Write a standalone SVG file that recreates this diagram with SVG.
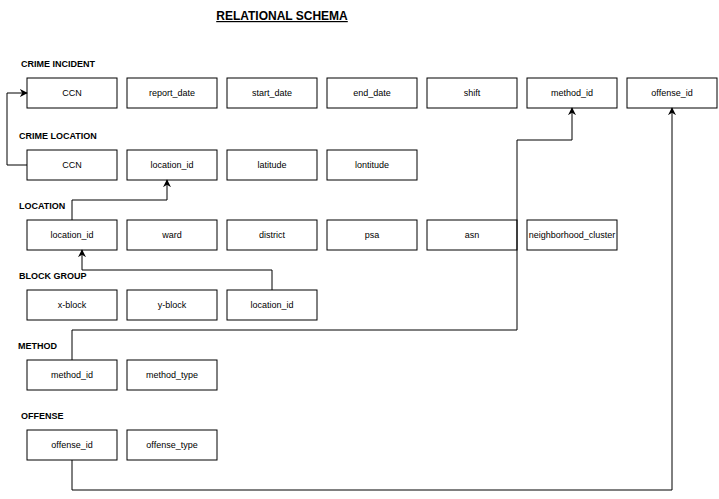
<svg xmlns="http://www.w3.org/2000/svg" width="719" height="499" viewBox="0 0 719 499">
<style>
.box rect{fill:#fff;stroke:#000;stroke-width:1}
.box text{font-family:"Liberation Sans",Arial,sans-serif;font-size:9px;fill:#000;text-anchor:middle;dominant-baseline:central}
.lbl{font-family:"Liberation Sans",Arial,sans-serif;font-size:9px;font-weight:bold;fill:#000}
.title{font-family:"Liberation Sans",Arial,sans-serif;font-size:12px;font-weight:bold;fill:#000;text-decoration:underline;text-anchor:middle}
.conn path{fill:none;stroke:#000;stroke-width:1}
</style>
<defs>
<marker id="arr" viewBox="0 0 10 10" refX="9" refY="5" markerWidth="8" markerHeight="8" markerUnits="userSpaceOnUse" orient="auto">
<path d="M0,0 L10,5 L0,10 L3,5 Z" fill="#000"/>
</marker>
</defs>
<rect width="719" height="499" fill="#fff"/>
<text class="title" x="282" y="20">RELATIONAL SCHEMA</text>
<text class="lbl" x="21" y="67">CRIME INCIDENT</text>
<text class="lbl" x="19" y="139">CRIME LOCATION</text>
<text class="lbl" x="19" y="209">LOCATION</text>
<text class="lbl" x="19" y="279">BLOCK GROUP</text>
<text class="lbl" x="18" y="349">METHOD</text>
<text class="lbl" x="21" y="419">OFFENSE</text>

<g id="ci-ccn" class="box"><rect x="27" y="78" width="90" height="30"/><text x="72" y="93">CCN</text></g>
<g id="ci-report_date" class="box"><rect x="127" y="78" width="90" height="30"/><text x="172" y="93">report_date</text></g>
<g id="ci-start_date" class="box"><rect x="227" y="78" width="90" height="30"/><text x="272" y="93">start_date</text></g>
<g id="ci-end_date" class="box"><rect x="327" y="78" width="90" height="30"/><text x="372" y="93">end_date</text></g>
<g id="ci-shift" class="box"><rect x="427" y="78" width="90" height="30"/><text x="472" y="93">shift</text></g>
<g id="ci-method_id" class="box"><rect x="527" y="78" width="90" height="30"/><text x="572" y="93">method_id</text></g>
<g id="ci-offense_id" class="box"><rect x="627" y="78" width="90" height="30"/><text x="672" y="93">offense_id</text></g>

<g id="cl-ccn" class="box"><rect x="27" y="150" width="90" height="30"/><text x="72" y="165">CCN</text></g>
<g id="cl-location_id" class="box"><rect x="127" y="150" width="90" height="30"/><text x="172" y="165">location_id</text></g>
<g id="cl-latitude" class="box"><rect x="227" y="150" width="90" height="30"/><text x="272" y="165">latitude</text></g>
<g id="cl-lontitude" class="box"><rect x="327" y="150" width="90" height="30"/><text x="372" y="165">lontitude</text></g>

<g id="loc-location_id" class="box"><rect x="27" y="220" width="90" height="30"/><text x="72" y="235">location_id</text></g>
<g id="loc-ward" class="box"><rect x="127" y="220" width="90" height="30"/><text x="172" y="235">ward</text></g>
<g id="loc-district" class="box"><rect x="227" y="220" width="90" height="30"/><text x="272" y="235">district</text></g>
<g id="loc-psa" class="box"><rect x="327" y="220" width="90" height="30"/><text x="372" y="235">psa</text></g>
<g id="loc-asn" class="box"><rect x="427" y="220" width="90" height="30"/><text x="472" y="235">asn</text></g>
<g id="loc-neighborhood_cluster" class="box"><rect x="527" y="220" width="90" height="30"/><text x="572" y="235">neighborhood_cluster</text></g>

<g id="bg-x-block" class="box"><rect x="27" y="290" width="90" height="30"/><text x="72" y="305">x-block</text></g>
<g id="bg-y-block" class="box"><rect x="127" y="290" width="90" height="30"/><text x="172" y="305">y-block</text></g>
<g id="bg-location_id" class="box"><rect x="227" y="290" width="90" height="30"/><text x="272" y="305">location_id</text></g>

<g id="m-method_id" class="box"><rect x="27" y="360" width="90" height="30"/><text x="72" y="375">method_id</text></g>
<g id="m-method_type" class="box"><rect x="127" y="360" width="90" height="30"/><text x="172" y="375">method_type</text></g>

<g id="o-offense_id" class="box"><rect x="27" y="430" width="90" height="30"/><text x="72" y="445">offense_id</text></g>
<g id="o-offense_type" class="box"><rect x="127" y="430" width="90" height="30"/><text x="172" y="445">offense_type</text></g>

<g id="connectors" class="conn">
<path d="M27,165 H7 V93 H27" marker-end="url(#arr)"/>
<path d="M72,220 V200 H167 V180" marker-end="url(#arr)"/>
<path d="M272,290 V270 H82 V250" marker-end="url(#arr)"/>
<path d="M72,360 V330 H517 V140 H572 V108" marker-end="url(#arr)"/>
<path d="M72,460 V490 H672 V108" marker-end="url(#arr)"/>
</g>
</svg>
